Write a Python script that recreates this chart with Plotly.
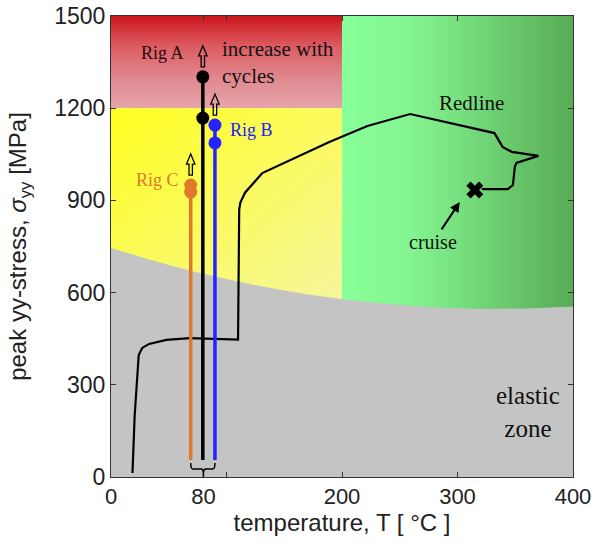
import numpy as np
import plotly.graph_objects as go

# ---------------- data ----------------
# elastic-zone boundary (temperature, stress)
bound_T = [0, 50, 100, 150, 200, 250, 300, 350, 400]
bound_S = [745, 690, 644, 607, 579, 560, 549, 548, 555]

# engine redline path
redline_T = [18.6, 20.5, 24, 27, 33, 48, 68, 110, 111, 112, 116, 131, 189, 222,
             259, 332, 339, 347, 370, 351, 349.6, 348, 343.6, 321]
redline_S = [13, 200, 397, 420, 433, 446, 452, 447, 870, 893, 925, 989, 1090, 1142,
             1181, 1119, 1074, 1058, 1045, 1022, 1009, 950, 937, 937]
cruise_T = [315]
cruise_S = [934]

# test rigs
rig_names = ["Rig A", "Rig B", "Rig C"]
rig_T = [79.5, 90, 69]
rig_base = [55, 55, 55]
rig_low = [1168, 1087, 927]
rig_high = [1302, 1145, 950]
rig_colors = ["#000000", "#2323ff", "#e07a2a"]

x_tickvals = [0, 80, 100, 200, 300, 400]
x_ticktext = ["0", "80", "", "200", "300", "400"]
y_tickvals = [0, 300, 600, 900, 1200, 1500]

SERIF = "Liberation Serif, Times New Roman, serif"
SANS = "Liberation Sans, Arial, sans-serif"

fig = go.Figure()

# ---------------- background zones ----------------
# red zone (0-200 C, 1200-1500 MPa): vertical gradient
ry = np.linspace(1200, 1500, 61)
rz = ((ry[:-1] + ry[1:]) / 2 - 1200) / 300
fig.add_trace(go.Heatmap(x=[0, 200], y=ry, z=rz.reshape(-1, 1), zmin=0, zmax=1,
                         colorscale=[[0, "#e6a4a9"], [0.3, "#e08b91"], [0.67, "#dc5c62"], [1, "#cb161c"]],
                         showscale=False, hoverinfo="skip"))
# yellow zone: diagonal gradient
yx = np.linspace(0, 200, 81)
yy = np.linspace(540, 1200, 67)
xc = (yx[:-1] + yx[1:]) / 2
yc = (yy[:-1] + yy[1:]) / 2
yz = np.clip(0.5 * xc[None, :] / 200 + 0.5 * (1200 - yc[:, None]) / 600, 0, 1)
fig.add_trace(go.Heatmap(x=yx, y=yy, z=yz, zmin=0, zmax=1,
                         colorscale=[[0, "#ffff20"], [1, "#f6f69c"]],
                         showscale=False, hoverinfo="skip"))
# green zone: horizontal gradient
gx = np.linspace(200, 400, 101)
gz = ((gx[:-1] + gx[1:]) / 2 - 200) / 200
fig.add_trace(go.Heatmap(x=gx, y=[540, 1500], z=gz.reshape(1, -1), zmin=0, zmax=1,
                         colorscale=[[0, "#88ff98"], [0.3, "#84f590"], [1, "#58ac55"]],
                         showscale=False, hoverinfo="skip"))

# elastic zone (grey)
fig.add_trace(go.Scatter(x=bound_T, y=[0] * len(bound_T), mode="lines",
                         line=dict(width=0), showlegend=False, hoverinfo="skip"))
fig.add_trace(go.Scatter(x=bound_T, y=bound_S, mode="lines", fill="tonexty",
                         fillcolor="#c4c4c4", line=dict(width=0, shape="spline"),
                         showlegend=False, hoverinfo="skip"))

# ---------------- redline ----------------
fig.add_trace(go.Scatter(x=redline_T, y=redline_S, mode="lines",
                         line=dict(color="black", width=2.2), showlegend=False))
fig.add_trace(go.Scatter(x=cruise_T, y=cruise_S, mode="markers",
                         marker=dict(symbol="x", size=15, color="black"), showlegend=False))

# ---------------- rigs ----------------
for name, t, b, lo, hi, c in zip(rig_names, rig_T, rig_base, rig_low, rig_high, rig_colors):
    fig.add_trace(go.Scatter(x=[t, t], y=[b, hi], mode="lines",
                             line=dict(color=c, width=3.5), showlegend=False))
    fig.add_trace(go.Scatter(x=[t, t], y=[lo, hi], mode="markers",
                             marker=dict(color=c, size=13), showlegend=False))
    # hollow "increase" arrow above the top marker
    fig.add_shape(type="path", xref="x", yref="y", xsizemode="pixel", ysizemode="pixel",
                  xanchor=t, yanchor=hi,
                  path="M -1.7,10 L 1.7,10 L 1.7,21 L 4.2,21 L 0,31 L -4.2,21 L -1.7,21 Z",
                  line=dict(color="black", width=1.3), fillcolor="rgba(0,0,0,0)")

# bracket under the rigs
xl, xc_, xr = min(rig_T), 80, max(rig_T)
fig.add_shape(type="path", xref="x", yref="y", ysizemode="pixel", yanchor=0,
              path=(f"M {xl},14 Q {xl},8 {xl+2},8 L {xc_-2},8 Q {xc_},8 {xc_},3 L {xc_},0 "
                    f"M {xc_},3 Q {xc_},8 {xc_+2},8 L {xr-2},8 Q {xr},8 {xr},14"),
              line=dict(color="black", width=1.5))

# ---------------- annotations ----------------
ann = [
    dict(x=44.6, y=1380, text="Rig A", font=dict(family=SERIF, size=18, color="#2a0a0a")),
    dict(x=94, y=1349, text="increase with<br>cycles", xanchor="left", align="left",
         font=dict(family=SERIF, size=21, color="#111")),
    dict(x=101, y=1129, text="Rig B", xanchor="left", font=dict(family=SERIF, size=18, color="#2323ff")),
    dict(x=61, y=966, text="Rig C", xanchor="right", font=dict(family=SERIF, size=18, color="#e07a2a")),
    dict(x=312, y=1217, text="Redline", font=dict(family=SERIF, size=21, color="#111")),
    dict(x=361, y=211, text="elastic<br>zone", font=dict(family=SERIF, size=25, color="#111")),
    dict(x=302, y=895, ax=279, ay=765, axref="x", ayref="y", text="cruise", showarrow=True,
         arrowhead=2, arrowsize=1, arrowwidth=2, arrowcolor="black",
         font=dict(family=SERIF, size=20, color="#111")),
]
for a in ann:
    a.setdefault("showarrow", False)
    a.setdefault("xref", "x")
    a.setdefault("yref", "y")
    fig.add_annotation(**a)

fig.update_layout(
    width=592, height=545,
    margin=dict(l=111, r=19, t=16, b=68),
    paper_bgcolor="white", plot_bgcolor="white",
    font=dict(family=SANS, color="#222"),
    showlegend=False,
)
fig.update_xaxes(range=[0, 400], tickvals=x_tickvals, ticktext=x_ticktext, automargin=False,
                 ticklabeloverflow="allow",
                 ticks="inside", ticklen=5, tickcolor="#333", mirror="ticks",
                 showline=True, linecolor="#333", linewidth=1, showgrid=False, zeroline=False,
                 tickfont=dict(family=SANS, size=22, color="#222"),
                 title=dict(text="temperature, T [ °C ]", font=dict(family=SANS, size=24, color="#222"),
                            standoff=4))
fig.update_yaxes(range=[0, 1500], tickvals=y_tickvals, automargin=False,
                 ticklabeloverflow="allow",
                 ticks="inside", ticklen=5, tickcolor="#333", mirror="ticks",
                 showline=True, linecolor="#333", linewidth=1, showgrid=False, zeroline=False,
                 tickfont=dict(family=SANS, size=23, color="#222"),
                 title=dict(text="peak yy-stress, <i>σ</i><sub>yy</sub> [MPa]",
                            font=dict(family=SANS, size=24, color="#222"), standoff=20))

fig.write_html("out.html")
